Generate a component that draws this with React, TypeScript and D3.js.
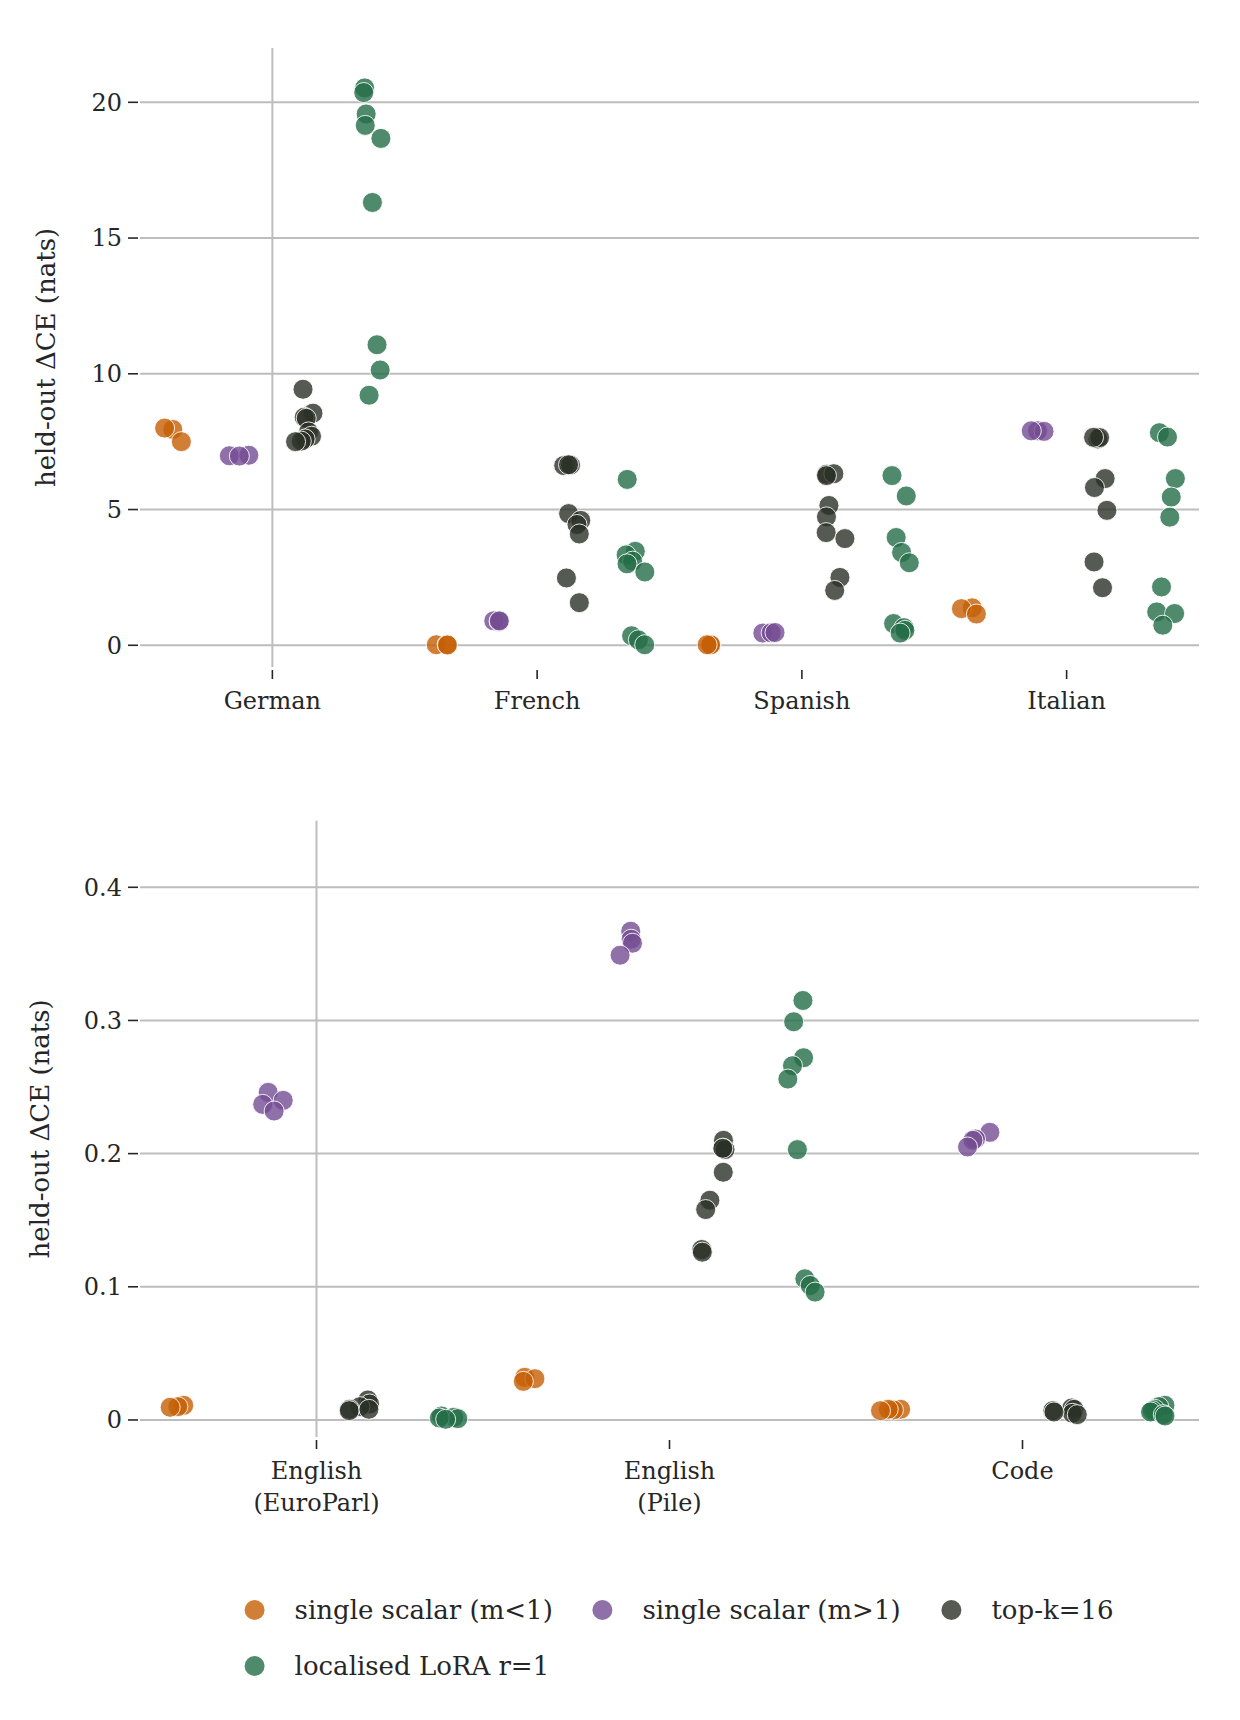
import React from "react";
import * as d3 from "d3";

// Category labels for both panels
const languageCategories = ["German", "French", "Spanish", "Italian"];
const englishCategories = [["English", "(EuroParl)"], ["English", "(Pile)"], ["Code"]];

// Series (method) names, in plotting order
const methodNames = [
  "single scalar (m<1)",
  "single scalar (m>1)",
  "top-k=16",
  "localised LoRA r=1",
];

// Top panel: held-out ΔCE per language, one inner list per category
const langScalarLow = [
  [7.95, 8.0, 7.5],
  [0.02, 0.03, 0.01],
  [0.01, 0.02, 0.02],
  [1.38, 1.35, 1.15],
];
const langScalarHigh = [
  [6.98, 7.0, 6.97],
  [0.9, 0.88, 0.9],
  [0.45, 0.46, 0.47],
  [7.9, 7.88, 7.9],
];
const langTopK = [
  [9.43, 8.55, 8.4, 8.36, 7.86, 7.7, 7.6, 7.52, 7.5],
  [6.62, 6.64, 6.65, 4.85, 4.6, 4.45, 4.1, 2.48, 1.57],
  [6.3, 6.32, 6.25, 5.15, 4.73, 4.15, 3.93, 2.5, 2.02],
  [7.6, 7.65, 7.66, 6.14, 5.81, 4.97, 3.07, 2.12],
];
const langLora = [
  [20.53, 20.36, 19.57, 19.15, 18.67, 16.31, 11.07, 10.14, 9.21],
  [6.11, 3.46, 3.33, 3.1, 3.0, 2.7, 0.35, 0.2, 0.02],
  [6.25, 5.5, 3.97, 3.42, 3.04, 0.8, 0.65, 0.55, 0.45],
  [7.83, 7.67, 6.14, 5.46, 4.72, 2.15, 1.23, 1.17, 0.74],
];

// Bottom panel: held-out ΔCE on English / code data
const engScalarLow = [
  [0.011, 0.01, 0.0095],
  [0.032, 0.031, 0.029],
  [0.008, 0.0075, 0.008, 0.007],
];
const engScalarHigh = [
  [0.246, 0.24, 0.237, 0.232],
  [0.367, 0.361, 0.358, 0.349],
  [0.216, 0.211, 0.21, 0.205],
];
const engTopK = [
  [0.015, 0.012, 0.01, 0.008, 0.007, 0.008],
  [0.21, 0.204, 0.203, 0.204, 0.186, 0.165, 0.158, 0.128, 0.126],
  [0.009, 0.008, 0.007, 0.005, 0.004, 0.006],
];
const engLora = [
  [0.003, 0.002, 0.001, 0.0015, 0.0005],
  [0.315, 0.299, 0.272, 0.266, 0.256, 0.203, 0.106, 0.101, 0.096],
  [0.011, 0.01, 0.008, 0.007, 0.006, 0.004, 0.003],
];

const langTicks = [0, 5, 10, 15, 20];
const engTicks = [0, 0.1, 0.2, 0.3, 0.4];

const palette = ["#c55f05", "#744c92", "#2b3127", "#236d47"];
const FONT = "'DejaVu Serif', serif";
const TEXT = "#262626";
const GRID = "#bdbdbd";
const MARKER_R = 10;

type PanelProps = {
  categories: string[][];
  series: number[][][];
  ticks: number[];
  domain: [number, number];
  top: number;
  bottom: number;
  seed: number;
  fmt: (v: number) => string;
  labelX: number;
};

function Panel({ categories, series, ticks, domain, top, bottom, seed, fmt, labelX }: PanelProps) {
  const left = 140;
  const right = 1199;
  const x = d3
    .scaleBand<number>()
    .domain(categories.map((_, i) => i))
    .range([left, right])
    .padding(0);
  const y = d3.scaleLinear().domain(domain).range([bottom, top]);
  const nHue = series.length;
  const slot = x.bandwidth() / nHue;
  // stripplot-style horizontal jitter inside each dodge slot
  const rand = d3.randomUniform.source(d3.randomLcg(seed))(-0.16, 0.16);

  const points: { cx: number; cy: number; color: string; key: string }[] = [];
  series.forEach((perCat, s) => {
    perCat.forEach((vals, c) => {
      vals.forEach((v, k) => {
        const center = (x(c) as number) + slot * (s + 0.5);
        points.push({
          cx: center + rand() * slot,
          cy: y(v),
          color: palette[s],
          key: `${s}-${c}-${k}`,
        });
      });
    });
  });

  const firstX = (x(0) as number) + x.bandwidth() / 2;
  const midY = (top + bottom) / 2;

  return (
    <g>
      {ticks.map((t) => (
        <g key={t}>
          <line x1={left} x2={right} y1={y(t)} y2={y(t)} stroke={GRID} strokeWidth={2} />
          <line x1={128} x2={138} y1={y(t)} y2={y(t)} stroke={TEXT} strokeWidth={1.6} />
          <text
            x={122}
            y={y(t)}
            dy="0.35em"
            textAnchor="end"
            fontFamily={FONT}
            fontSize={24}
            fill={TEXT}
          >
            {fmt(t)}
          </text>
        </g>
      ))}
      <line x1={firstX} x2={firstX} y1={top} y2={bottom} stroke={GRID} strokeWidth={2} />
      {categories.map((lines, i) => {
        const cx = (x(i) as number) + x.bandwidth() / 2;
        return (
          <g key={i}>
            <line x1={cx} x2={cx} y1={bottom + 3} y2={bottom + 12} stroke={TEXT} strokeWidth={1.6} />
            {lines.map((ln, j) => (
              <text
                key={j}
                x={cx}
                y={bottom + 42 + j * 32}
                textAnchor="middle"
                fontFamily={FONT}
                fontSize={24}
                fill={TEXT}
              >
                {ln}
              </text>
            ))}
          </g>
        );
      })}
      <text
        transform={`translate(${labelX},${midY}) rotate(-90)`}
        textAnchor="middle"
        dy="0.35em"
        fontFamily={FONT}
        fontSize={26}
        fill={TEXT}
      >
        held-out ΔCE (nats)
      </text>
      {points.map((p) => (
        <circle
          key={p.key}
          cx={p.cx}
          cy={p.cy}
          r={MARKER_R}
          fill={p.color}
          fillOpacity={0.8}
          stroke="#ffffff"
          strokeOpacity={0.85}
          strokeWidth={1}
        />
      ))}
    </g>
  );
}

function Legend() {
  const rows = [
    [0, 1, 2],
    [3],
  ];
  const colX = [254.6, 602.4, 951.4];
  const rowY = [1610, 1666];
  return (
    <g>
      {rows.map((row, r) =>
        row.map((s, c) => (
          <g key={s}>
            <circle cx={colX[c]} cy={rowY[r]} r={MARKER_R} fill={palette[s]} fillOpacity={0.8} />
            <text
              x={colX[c] + 40}
              y={rowY[r]}
              dy="0.35em"
              fontFamily={FONT}
              fontSize={26}
              fill={TEXT}
            >
              {methodNames[s]}
            </text>
          </g>
        ))
      )}
    </g>
  );
}

export default function App() {
  return (
    <svg
      width={1240}
      height={1720}
      viewBox="0 0 1240 1720"
      style={{ position: "absolute", left: 0, top: 0, background: "#fff" }}
    >
      <rect width={1240} height={1720} fill="#fff" />
      <Panel
        categories={languageCategories.map((c) => [c])}
        series={[langScalarLow, langScalarHigh, langTopK, langLora]}
        ticks={langTicks}
        domain={[-0.8, 22]}
        top={48}
        bottom={667}
        seed={0.17}
        fmt={(v) => String(v)}
        labelX={46}
      />
      <Panel
        categories={englishCategories}
        series={[engScalarLow, engScalarHigh, engTopK, engLora]}
        ticks={engTicks}
        domain={[-0.0128, 0.45]}
        top={820.7}
        bottom={1437}
        seed={0.61}
        fmt={(v) => (v === 0 ? "0" : v.toFixed(1))}
        labelX={40}
      />
      <Legend />
    </svg>
  );
}
